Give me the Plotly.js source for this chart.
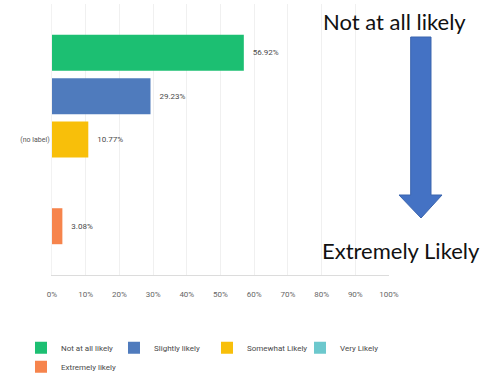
<!DOCTYPE html>
<html>
<head>
<meta charset="utf-8">
<script src="https://cdn.plot.ly/plotly-3.0.1.min.js"></script>
<style>html,body{margin:0;padding:0;background:#fff;}#chart{width:490px;height:377px;}</style>
</head>
<body>
<div id="chart"></div>
<script>
const category = ['(no label)'];
const seriesNames = ['Not at all likely', 'Slightly likely', 'Somewhat Likely', 'Very Likely', 'Extremely likely'];
const seriesValues = [56.92, 29.23, 10.77, 0, 3.08];
const seriesColors = ['#1cbf72', '#4f7bbd', '#f8bf0a', '#6cc8cd', '#f6844c'];
const tickValues = [0, 10, 20, 30, 40, 50, 60, 70, 80, 90, 100];
const tickLabels = ['0%', '10%', '20%', '30%', '40%', '50%', '60%', '70%', '80%', '90%', '100%'];
const topLabel = 'Not at all likely';
const bottomLabel = 'Extremely Likely';

const traces = seriesNames.map((name, i) => ({
  type: 'bar',
  orientation: 'h',
  name: name,
  y: category,
  x: [seriesValues[i]],
  marker: {color: seriesColors[i]},
  text: [seriesValues[i] > 0 ? '\u00a0\u00a0\u00a0' + seriesValues[i].toFixed(2) + '%' : ''],
  textposition: 'outside',
  cliponaxis: false,
  textfont: {family: 'Roboto, sans-serif', size: 8, color: '#4a4a4a'},
  hoverinfo: 'none'
}));

const layout = {
  width: 490,
  height: 377,
  margin: {l: 52, r: 101, t: 4, b: 102, autoexpand: false},
  paper_bgcolor: '#fff',
  plot_bgcolor: '#fff',
  barmode: 'group',
  bargap: 0.2,
  bargroupgap: 0.17,
  showlegend: true,
  legend: {
    orientation: 'h',
    x: -0.092, xanchor: 'left',
    y: -0.215, yanchor: 'top',
    traceorder: 'normal',
    font: {family: 'Roboto, sans-serif', size: 8, color: '#4a4a4a'},
    entrywidth: 48,
    itemwidth: 30
  },
  xaxis: {
    range: [0, 100],
    tickvals: tickValues,
    ticktext: tickLabels,
    showgrid: true,
    gridcolor: '#f0f0f0',
    zeroline: false,
    showline: true,
    linecolor: '#dcdcdc',
    ticks: '',
    ticklabelstandoff: 11,
    tickfont: {family: 'Roboto, sans-serif', size: 8, color: '#666'},
    fixedrange: true
  },
  yaxis: {
    type: 'category',
    autorange: 'reversed',
    showgrid: false,
    zeroline: false,
    showline: true,
    linecolor: '#f2f2f2',
    ticks: '',
    tickfont: {family: 'Roboto, sans-serif', size: 7, color: '#555'},
    fixedrange: true
  },
  shapes: [{
    type: 'path',
    xref: 'paper', yref: 'paper',
    path: 'M1.0644,0.8782 L1.1246,0.8782 L1.1246,0.2952 L1.1573,0.2952 L1.095,0.2103 L1.0297,0.2952 L1.0644,0.2952 Z',
    fillcolor: '#4472c4',
    line: {color: '#3a64ae', width: 1}
  }],
  annotations: [
    {text: topLabel, xref: 'paper', yref: 'paper', x: 1.0163, y: 0.9336, xanchor: 'center', yanchor: 'middle', showarrow: false,
     font: {family: 'Lato, sans-serif', size: 22, color: '#111'}},
    {text: bottomLabel, xref: 'paper', yref: 'paper', x: 1.0356, y: 0.0886, xanchor: 'center', yanchor: 'middle', showarrow: false,
     font: {family: 'Lato, sans-serif', size: 22, color: '#111'}}
  ]
};

Plotly.newPlot('chart', traces, layout, {displayModeBar: false, staticPlot: true});
</script>
</body>
</html>
